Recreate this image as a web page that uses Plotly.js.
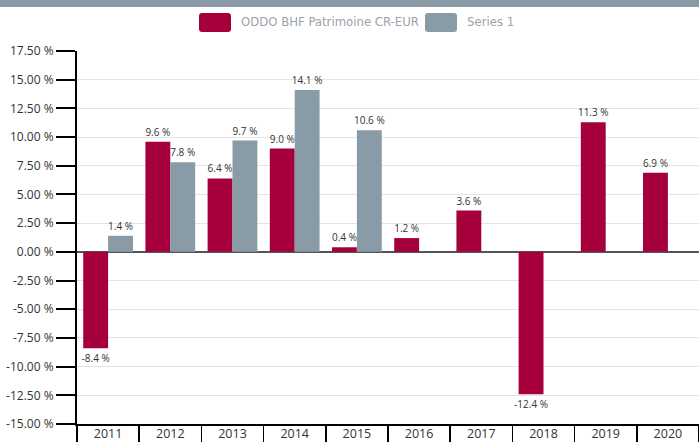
<!DOCTYPE html>
<html><head><meta charset="utf-8">
<script src="https://cdn.plot.ly/plotly-3.0.1.min.js"></script>
<style>html,body{margin:0;padding:0;background:#fff;}#chart{width:699px;height:442px;}</style>
</head><body><div id="chart"></div>
<script>
const years = ['2011','2012','2013','2014','2015','2016','2017','2018','2019','2020'];
const fundName = 'ODDO BHF Patrimoine CR-EUR';
const fundValues = [-8.4, 9.6, 6.4, 9.0, 0.4, 1.2, 3.6, -12.4, 11.3, 6.9];
const seriesName = 'Series 1';
const seriesValues = [1.4, 7.8, 9.7, 14.1, 10.6, null, null, null, null, null];
const yTicks = [17.5, 15, 12.5, 10, 7.5, 5, 2.5, 0, -2.5, -5, -7.5, -10, -12.5, -15];

const fundColor = '#a5003c', seriesColor = '#8a9ba8';
const fmt = v => (v < 0 ? '-' : '') + Math.abs(v).toFixed(1) + ' %';
const fmtTick = v => (v < 0 ? '-' : '') + Math.abs(v).toFixed(2) + ' %';

const W = 699, H = 442, M = {l:77, r:0, t:51, b:18};
const PW = W - M.l - M.r, PH = H - M.t - M.b;
const px = x => (x - M.l) / PW;
const py = y => 1 + (M.t - y) / PH;
function roundRect(x0, y0, x1, y1, r) {
  return `M${px(x0+r)},${py(y0)} L${px(x1-r)},${py(y0)} Q${px(x1)},${py(y0)} ${px(x1)},${py(y0+r)} ` +
    `L${px(x1)},${py(y1-r)} Q${px(x1)},${py(y1)} ${px(x1-r)},${py(y1)} L${px(x0+r)},${py(y1)} ` +
    `Q${px(x0)},${py(y1)} ${px(x0)},${py(y1-r)} L${px(x0)},${py(y0+r)} Q${px(x0)},${py(y0)} ${px(x0+r)},${py(y0)} Z`;
}

const font = 'Open Sans, sans-serif';
const legFont = {family:'DejaVu Sans Condensed, Liberation Sans, sans-serif', size:13, color:'#9aa3ab'};
const mk = (name, vals, color) => ({type:'bar', name:name, x:years, y:vals,
   marker:{color:color},
   text:vals.map(v=>v==null?'':fmt(v)), textposition:'outside', constraintext:'none',
   textfont:{size:10, color:'#333', family:font}, cliponaxis:false, hoverinfo:'skip'});
const traces = [mk(fundName, fundValues, fundColor), mk(seriesName, seriesValues, seriesColor)];

const layout = {
  width:W, height:H, margin:M,
  paper_bgcolor:'#fff', plot_bgcolor:'#fff',
  barmode:'group', bargap:0.2, bargroupgap:0,
  font:{family:font, color:'#333', size:12},
  showlegend:false,
  xaxis:{type:'category', showgrid:false, showline:true, linecolor:'#000', linewidth:2,
    ticks:'outside', tickson:'boundaries', ticklen:18, tickwidth:1.5, tickcolor:'#000',
    ticklabelstandoff:-3, tickfont:{size:12.5, color:'#333'}, fixedrange:true},
  yaxis:{range:[-15,17.5], tickvals:yTicks, ticktext:yTicks.map(fmtTick),
    showgrid:true, gridcolor:'#e4e4e4', gridwidth:1,
    zeroline:true, zerolinecolor:'#555', zerolinewidth:1.5,
    showline:true, linecolor:'#000', linewidth:2,
    ticks:'outside', ticklen:19, tickwidth:2, tickcolor:'#000',
    tickfont:{size:12, color:'#333'}, fixedrange:true},
  shapes:[
    {type:'rect', xref:'paper', yref:'paper', x0:px(-5), x1:px(W+5), y0:py(7), y1:py(-5),
      fillcolor:seriesColor, line:{width:0}, layer:'below'},
    {type:'path', xref:'paper', yref:'paper', path:roundRect(199,13,231,32,3),
      fillcolor:fundColor, line:{width:0}},
    {type:'path', xref:'paper', yref:'paper', path:roundRect(425,13,457,32,3),
      fillcolor:seriesColor, line:{width:0}}
  ],
  annotations:[
    {xref:'paper', yref:'paper', x:px(239), y:py(22), xanchor:'left', yanchor:'middle',
      text:fundName, showarrow:false, font:legFont},
    {xref:'paper', yref:'paper', x:px(465), y:py(22), xanchor:'left', yanchor:'middle',
      text:seriesName, showarrow:false, font:legFont}
  ]
};
Plotly.newPlot('chart', traces, layout, {displayModeBar:false, staticPlot:true});
</script></body></html>
